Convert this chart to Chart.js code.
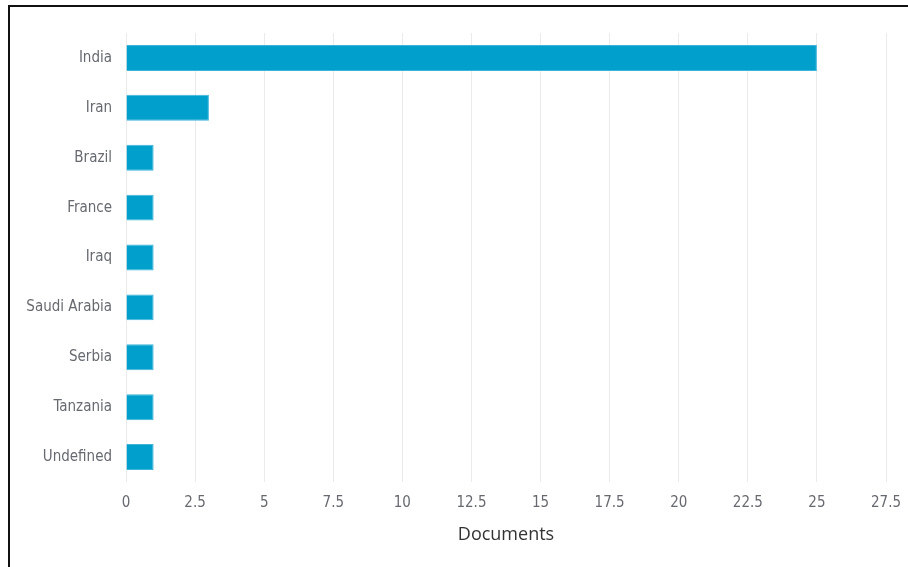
<!DOCTYPE html>
<html>
<head>
<meta charset="utf-8">
<script src="https://cdn.jsdelivr.net/npm/chart.js@4/dist/chart.umd.min.js"></script>
<style>
  html, body { margin: 0; padding: 0; background: #fff; }
  #wrap { position: relative; width: 908px; height: 567px; overflow: hidden; }
  #frame { position: absolute; left: 8px; top: 5px; right: 0; bottom: 0;
           border-top: 2px solid #111; border-left: 2px solid #111; pointer-events: none; }
  canvas { position: absolute; left: 0; top: 0; }
</style>
</head>
<body>
<div id="wrap">
  <canvas id="chart" width="908" height="567"></canvas>
  <div id="frame"></div>
</div>
<script>
// countries and document counts
const countries = ['India', 'Iran', 'Brazil', 'France', 'Iraq', 'Saudi Arabia', 'Serbia', 'Tanzania', 'Undefined'];
const documents = [25, 3, 1, 1, 1, 1, 1, 1, 1];
const xTicks = [0, 2.5, 5, 7.5, 10, 12.5, 15, 17.5, 20, 22.5, 25, 27.5];

const labelFont = { family: '"Liberation Sans Narrow", "DejaVu Sans Condensed", sans-serif', size: 15 };

new Chart(document.getElementById('chart'), {
  type: 'bar',
  data: {
    labels: countries,
    datasets: [{
      data: documents,
      backgroundColor: '#009fcc',
      borderColor: '#3fb4d9',
      borderWidth: 1,
      barPercentage: 0.52,
      categoryPercentage: 1,
    }],
  },
  options: {
    indexAxis: 'y',
    responsive: false,
    animation: false,
    layout: { padding: { top: 33, right: 22, left: 0, bottom: 0 } },
    plugins: { legend: { display: false }, tooltip: { enabled: false } },
    scales: {
      x: {
        min: 0,
        max: 27.5,
        afterBuildTicks: axis => { axis.ticks = xTicks.map(v => ({ value: v })); },
        afterFit: axis => { axis.height = 85; axis.paddingLeft = 0; axis.paddingRight = 0; },
        grid: { color: '#ebebeb', lineWidth: 1, drawTicks: false },
        border: { display: false },
        ticks: { padding: 12, color: '#666a70', font: labelFont, maxRotation: 0, autoSkip: false },
        title: {
          display: true,
          text: 'Documents',
          color: '#333',
          font: { family: '"Open Sans", sans-serif', size: 18 },
          padding: { top: 4, bottom: 21 },
        },
      },
      y: {
        afterFit: axis => { axis.width = 126; },
        grid: { display: false, drawTicks: false },
        border: { display: false },
        ticks: { padding: 14, color: '#666a70', font: labelFont },
      },
    },
  },
});
</script>
</body>
</html>
